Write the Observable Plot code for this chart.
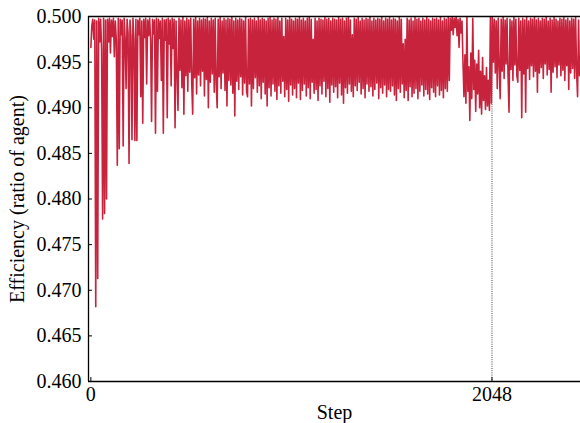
<!DOCTYPE html>
<html>
<head>
<meta charset="utf-8">
<script src="https://cdn.jsdelivr.net/npm/d3@7"></script>
<script src="https://cdn.jsdelivr.net/npm/@observablehq/plot@0.6"></script>
<style>
  html, body { margin: 0; padding: 0; background: #fff; }
</style>
</head>
<body>
<div id="chart"></div>
<script>
// Sampling of the run: one value every 5 steps, starting at step 0
const stepStart = 0;
const stepInterval = 5;

const efficiency = [
  0.4966, 0.4990, 0.4997, 0.4975, 0.4996, 0.4682, 0.4995, 0.4713, 0.4998, 0.4972,
  0.4997, 0.4963, 0.4778, 0.4998, 0.4784, 0.4996, 0.4800, 0.4997, 0.4972, 0.4998,
  0.4960, 0.4996, 0.4978, 0.4998, 0.4956, 0.4995, 0.4974, 0.4837, 0.4998, 0.4855,
  0.4997, 0.4980, 0.4996, 0.4858, 0.4998, 0.4976, 0.4921, 0.4997, 0.4982, 0.4839,
  0.4996, 0.4978, 0.4865, 0.4998, 0.4975, 0.4864, 0.4997, 0.4864, 0.4996, 0.4980,
  0.4998, 0.4912, 0.4995, 0.4883, 0.4997, 0.4977, 0.4998, 0.4926, 0.4996, 0.4979,
  0.4998, 0.4975, 0.4885, 0.4997, 0.4981, 0.4996, 0.4872, 0.4998, 0.4918, 0.4997,
  0.4976, 0.4995, 0.4930, 0.4998, 0.4872, 0.4996, 0.4974, 0.4997, 0.4889, 0.4998,
  0.4970, 0.4996, 0.4924, 0.4998, 0.4965, 0.4997, 0.4878, 0.4995, 0.4938, 0.4897,
  0.4998, 0.4941, 0.4996, 0.4922, 0.4999, 0.4893, 0.4995, 0.4935, 0.4998, 0.4918,
  0.4996, 0.4939, 0.4998, 0.4927, 0.4893, 0.4997, 0.4933, 0.4999, 0.4915, 0.4995,
  0.4936, 0.4998, 0.4924, 0.4996, 0.4940, 0.4998, 0.4913, 0.4997, 0.4931, 0.4999,
  0.4900, 0.4995, 0.4928, 0.4998, 0.4937, 0.4996, 0.4917, 0.4998, 0.4926, 0.4900,
  0.4997, 0.4934, 0.4999, 0.4921, 0.4995, 0.4938, 0.4998, 0.4919, 0.4996, 0.4902,
  0.4998, 0.4930, 0.4997, 0.4925, 0.4999, 0.4916, 0.4995, 0.4891, 0.4998, 0.4929,
  0.4996, 0.4920, 0.4998, 0.4934, 0.4997, 0.4914, 0.4995, 0.4927, 0.4999, 0.4918,
  0.4912, 0.4997, 0.4926, 0.4998, 0.4902, 0.4996, 0.4921, 0.4998, 0.4933, 0.4995,
  0.4917, 0.4999, 0.4924, 0.4996, 0.4910, 0.4998, 0.4928, 0.4997, 0.4915, 0.4995,
  0.4902, 0.4998, 0.4922, 0.4999, 0.4913, 0.4996, 0.4926, 0.4998, 0.4918, 0.4997,
  0.4909, 0.4999, 0.4924, 0.4995, 0.4916, 0.4998, 0.4929, 0.4978, 0.4912, 0.4998,
  0.4920, 0.4996, 0.4907, 0.4999, 0.4925, 0.4997, 0.4914, 0.4995, 0.4921, 0.4998,
  0.4911, 0.4997, 0.4927, 0.4999, 0.4909, 0.4996, 0.4919, 0.4998, 0.4926, 0.4995,
  0.4913, 0.4998, 0.4922, 0.4999, 0.4910, 0.4997, 0.4928, 0.4975, 0.4916, 0.4998,
  0.4920, 0.4995, 0.4908, 0.4998, 0.4924, 0.4997, 0.4915, 0.4996, 0.4929, 0.4999,
  0.4912, 0.4997, 0.4921, 0.4998, 0.4906, 0.4995, 0.4925, 0.4998, 0.4917, 0.4997,
  0.4923, 0.4996, 0.4911, 0.4999, 0.4927, 0.4997, 0.4914, 0.4998, 0.4905, 0.4995,
  0.4922, 0.4998, 0.4916, 0.4999, 0.4926, 0.4996, 0.4918, 0.4980, 0.4912, 0.4998,
  0.4924, 0.4997, 0.4919, 0.4999, 0.4928, 0.4995, 0.4915, 0.4998, 0.4921, 0.4996,
  0.4911, 0.4998, 0.4926, 0.4997, 0.4918, 0.4999, 0.4923, 0.4995, 0.4913, 0.4998,
  0.4920, 0.4996, 0.4927, 0.4998, 0.4910, 0.4997, 0.4922, 0.4999, 0.4916, 0.4995,
  0.4925, 0.4998, 0.4912, 0.4997, 0.4920, 0.4999, 0.4918, 0.4996, 0.4924, 0.4998,
  0.4914, 0.4997, 0.4908, 0.4995, 0.4921, 0.4999, 0.4917, 0.4997, 0.4926, 0.4970,
  0.4911, 0.4975, 0.4919, 0.4998, 0.4908, 0.4996, 0.4923, 0.4998, 0.4912, 0.4995,
  0.4916, 0.4999, 0.4921, 0.4997, 0.4910, 0.4998, 0.4918, 0.4995, 0.4925, 0.4998,
  0.4913, 0.4996, 0.4920, 0.4999, 0.4915, 0.4997, 0.4909, 0.4995, 0.4922, 0.4998,
  0.4917, 0.4997, 0.4912, 0.4998, 0.4924, 0.4996, 0.4914, 0.4999, 0.4919, 0.4995,
  0.4911, 0.4998, 0.4921, 0.4997, 0.4918, 0.4999, 0.4930, 0.4998, 0.4985, 0.4999,
  0.4980, 0.4998, 0.4988, 0.4999, 0.4979, 0.4997, 0.4966, 0.4998, 0.4982, 0.4995,
  0.4950, 0.4912, 0.4958, 0.4905, 0.4999, 0.4918, 0.4945, 0.4886, 0.4960, 0.4910,
  0.4998, 0.4920, 0.4952, 0.4896, 0.4948, 0.4915, 0.4963, 0.4900, 0.4940, 0.4893,
  0.4955, 0.4908, 0.4935, 0.4898, 0.4944, 0.4902, 0.4930, 0.4897, 0.4999, 0.4905,
  0.4999, 0.4950, 0.4997, 0.4938, 0.4995, 0.4921, 0.4998, 0.4945, 0.4910, 0.4997,
  0.4940, 0.4999, 0.4932, 0.4996, 0.4948, 0.4998, 0.4936, 0.4895, 0.4997, 0.4942,
  0.4995, 0.4930, 0.4999, 0.4947, 0.4997, 0.4935, 0.4928, 0.4998, 0.4941, 0.4995,
  0.4889, 0.4998, 0.4937, 0.4996, 0.4895, 0.4999, 0.4943, 0.4995, 0.4931, 0.4998,
  0.4946, 0.4997, 0.4934, 0.4999, 0.4940, 0.4996, 0.4917, 0.4998, 0.4938, 0.4995,
  0.4944, 0.4998, 0.4932, 0.4997, 0.4948, 0.4999, 0.4936, 0.4995, 0.4942, 0.4998,
  0.4917, 0.4996, 0.4939, 0.4999, 0.4945, 0.4997, 0.4933, 0.4995, 0.4947, 0.4998,
  0.4935, 0.4997, 0.4941, 0.4999, 0.4930, 0.4996, 0.4946, 0.4998, 0.4920, 0.4995,
  0.4938, 0.4998, 0.4943, 0.4997, 0.4932, 0.4999, 0.4940, 0.4912, 0.4996, 0.4935
];

const xTicks = [0, 2048];
const markerStep = [2048];
const yTicks = [0.460, 0.465, 0.470, 0.475, 0.480, 0.485, 0.490, 0.495, 0.500];
const xDomain = [-12, 2500];
const yDomain = [0.46, 0.5];
const xLabel = "Step";
const yLabel = "Efficiency (ratio of agent)";
const lineColor = "#c8233d";

const rows = efficiency.map((v, i) => ({step: stepStart + i * stepInterval, value: v}));

const font = "'Liberation Serif', 'Times New Roman', serif";

const chart = Plot.plot({
  width: 580,
  height: 423,
  marginLeft: 88,
  marginRight: 0,
  marginTop: 16,
  marginBottom: 42,
  style: {fontFamily: font, fontSize: "20px", background: "#fff", color: "#000"},
  x: {domain: xDomain},
  y: {domain: yDomain},
  marks: [
    Plot.ruleX(markerStep, {stroke: "#444", strokeWidth: 1, strokeDasharray: "1,1.2"}),
    Plot.lineY(rows, {x: "step", y: "value", stroke: lineColor, strokeWidth: 1.6}),
    Plot.ruleX([xDomain[0]], {stroke: "#000", strokeWidth: 1.3}),
    Plot.ruleY(yDomain, {stroke: "#000", strokeWidth: 1.3}),
    Plot.axisY({
      ticks: yTicks, tickFormat: d3.format(".3f"), tickSize: -4, tickPadding: 11,
      fontSize: 20, label: yLabel, labelAnchor: "center", labelOffset: 79, labelArrow: false
    }),
    Plot.axisX({
      ticks: xTicks, tickFormat: d => String(d), tickSize: -4, tickPadding: 9,
      fontSize: 20, label: xLabel, labelAnchor: "center", labelOffset: 37, labelArrow: false
    })
  ]
});

document.getElementById("chart").appendChild(chart);
</script>
</body>
</html>
